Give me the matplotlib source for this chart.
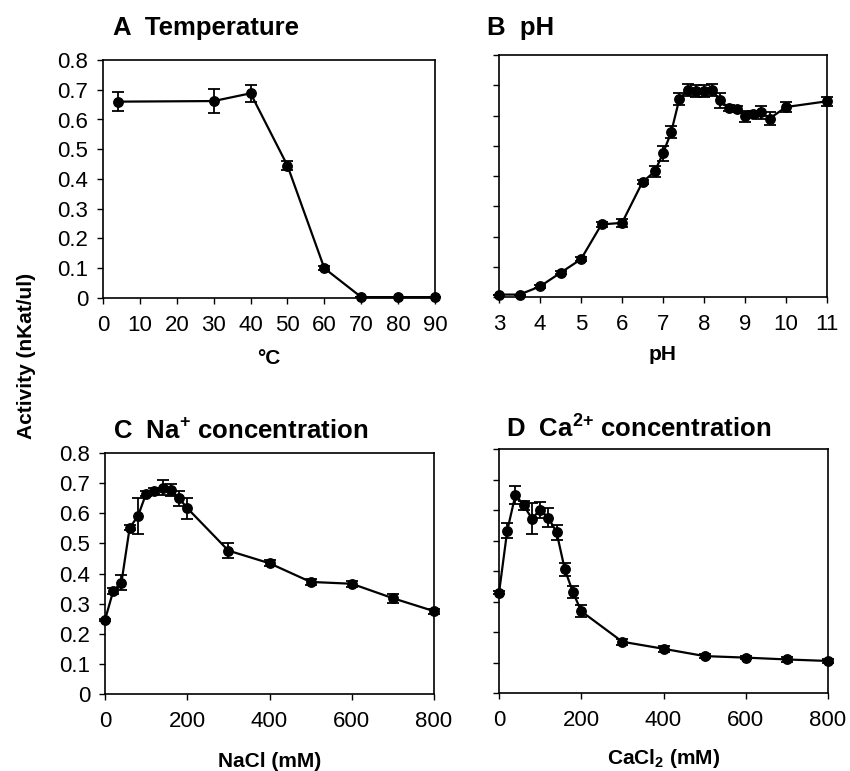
import matplotlib
matplotlib.use("Agg")
from matplotlib import pyplot as plt

plt.rcParams['font.family'] = ['Liberation Sans', 'DejaVu Sans']
plt.rcParams['mathtext.fontset'] = 'custom'
plt.rcParams['mathtext.rm'] = 'Liberation Sans'
plt.rcParams['mathtext.bf'] = 'Liberation Sans:bold'

# A - temperature
temp_x = [4, 30, 40, 50, 60, 70, 80, 90]
temp_y = [0.66, 0.662, 0.688, 0.445, 0.10, 0.003, 0.003, 0.003]
temp_err = [0.031, 0.041, 0.028, 0.015, 0.006, 0.0, 0.0, 0.0]

# B - pH
ph_x = [3, 3.5, 4, 4.5, 5, 5.5, 6, 6.5, 6.8, 7.0, 7.2, 7.4, 7.6, 7.8,
        8.0, 8.2, 8.4, 8.6, 8.8, 9.0, 9.2, 9.4, 9.6, 10, 11]
ph_y = [0.008, 0.008, 0.035, 0.08, 0.125, 0.24, 0.245, 0.38, 0.415, 0.475,
        0.545, 0.655, 0.683, 0.68, 0.682, 0.683, 0.65, 0.625, 0.623, 0.597,
        0.605, 0.61, 0.59, 0.628, 0.647]
ph_err = [0.0, 0.0, 0.004, 0.005, 0.006, 0.008, 0.012, 0.006, 0.018, 0.025,
          0.02, 0.02, 0.02, 0.02, 0.02, 0.02, 0.025, 0.01, 0.01, 0.018,
          0.01, 0.02, 0.02, 0.015, 0.015]

# C - NaCl
na_x = [0, 20, 40, 60, 80, 100, 120, 140, 160, 180, 200, 300, 400, 500, 600, 700, 800]
na_y = [0.246, 0.342, 0.37, 0.552, 0.59, 0.665, 0.673, 0.684, 0.676, 0.65, 0.617,
        0.476, 0.434, 0.372, 0.366, 0.318, 0.275]
na_err = [0.004, 0.01, 0.025, 0.008, 0.06, 0.008, 0.01, 0.025, 0.02, 0.025, 0.035,
          0.025, 0.01, 0.01, 0.01, 0.015, 0.008]

# D - CaCl2
ca_x = [0, 20, 40, 60, 80, 100, 120, 140, 160, 180, 200, 300, 400, 500, 600, 700, 800]
ca_y = [0.328, 0.532, 0.65, 0.615, 0.572, 0.6, 0.575, 0.527, 0.405, 0.33, 0.268,
        0.168, 0.145, 0.121, 0.116, 0.11, 0.105]
ca_err = [0.005, 0.025, 0.03, 0.015, 0.05, 0.025, 0.03, 0.025, 0.02, 0.02, 0.02,
          0.01, 0.01, 0.006, 0.006, 0.008, 0.005]

fig = plt.figure(figsize=(8.5, 7.71), dpi=100)
W, H = 850.0, 771.0


def make_axes(left, right, top, bottom):
    return fig.add_axes([left / W, 1 - bottom / H, (right - left) / W, (bottom - top) / H])


def draw(ax, x, y, err, xlim, xticks, show_ylabels):
    ax.errorbar(x, y, yerr=err, color='black', lw=1.6, marker='o', ms=6.8,
                capsize=4.6, elinewidth=1.3, capthick=1.3, clip_on=False, zorder=3)
    ax.set_xlim(*xlim)
    ax.set_ylim(0, 0.8)
    ax.set_xticks(xticks)
    ax.set_yticks([i / 10 for i in range(9)])
    if show_ylabels:
        ax.set_yticklabels(['0'] + ['%.1f' % (i / 10) for i in range(1, 9)])
    else:
        ax.set_yticklabels([])
    ax.tick_params(direction='out', length=4.5, width=1.0, labelsize=16, pad=6)
    ax.tick_params(axis='x', pad=8)
    for s in ax.spines.values():
        s.set_linewidth(1.2)


label_kw = dict(fontsize=15, fontweight='bold')

axA = make_axes(103, 435, 60, 298)
draw(axA, temp_x, temp_y, temp_err, (0, 90), range(0, 91, 10), True)
axA.set_xlabel('°C', labelpad=9, **label_kw)

axB = make_axes(499, 827, 55, 297)
draw(axB, ph_x, ph_y, ph_err, (3, 11), range(3, 12), False)
axB.set_xlabel('pH', labelpad=7, **label_kw)

axC = make_axes(105, 434, 453, 694)
draw(axC, na_x, na_y, na_err, (0, 800), range(0, 801, 200), True)
axC.set_xlabel('NaCl (mM)', labelpad=14, **label_kw)

axD = make_axes(499, 828, 449, 693)
draw(axD, ca_x, ca_y, ca_err, (0, 800), range(0, 801, 200), False)
axD.set_xlabel(r'CaCl$_{\mathbf{2}}$ (mM)', labelpad=11, **label_kw)

title_kw = dict(fontsize=18.5, fontweight='bold', ha='left', va='baseline')
fig.text(113 / W, 1 - 35 / H, 'A  Temperature', **title_kw)
fig.text(487 / W, 1 - 35 / H, 'B  pH', **title_kw)
fig.text(113 / W, 1 - 438 / H, r'C  Na$^{\mathbf{+}}$ concentration', **title_kw)
fig.text(506 / W, 1 - 437 / H, r'D  Ca$^{\mathbf{2}{\mathbf{+}}}$ concentration', **title_kw)

fig.text(27 / W, 1 - 356 / H, 'Activity (nKat/ul)', rotation=90,
         ha='center', va='center', **label_kw)

fig.savefig('out.png', dpi=100)
